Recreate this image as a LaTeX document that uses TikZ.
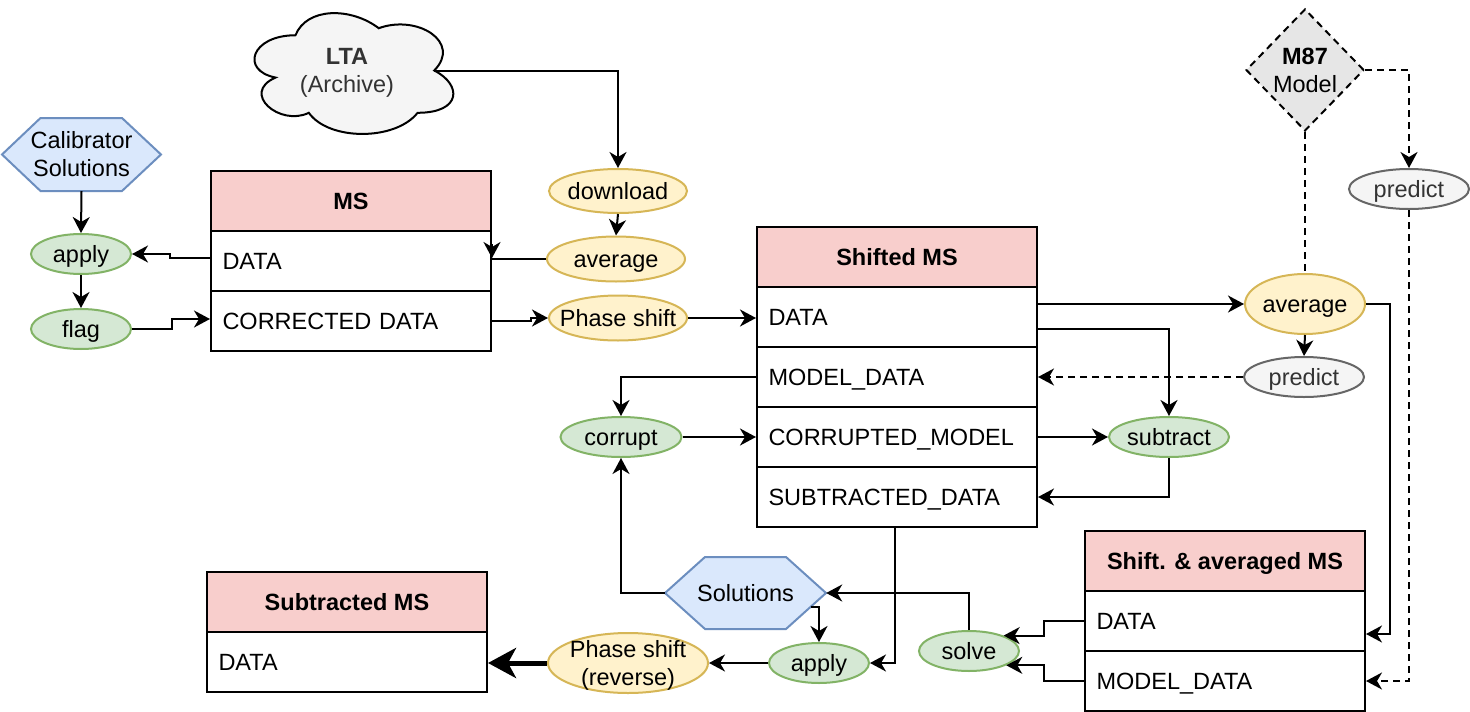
\documentclass[tikz,border=0pt]{standalone}
\usepackage{fontspec}
\setmainfont{Liberation Sans}
\usetikzlibrary{shapes.geometric,arrows.meta}
\definecolor{gfill}{HTML}{D5E8D4}\definecolor{gdraw}{HTML}{82B366}
\definecolor{yfill}{HTML}{FFF2CC}\definecolor{ydraw}{HTML}{D6B656}
\definecolor{pfill}{HTML}{F5F5F5}\definecolor{pdraw}{HTML}{666666}\definecolor{ptext}{HTML}{333333}
\definecolor{bfill}{HTML}{DAE8FC}\definecolor{bdraw}{HTML}{6C8EBF}
\definecolor{hfill}{HTML}{F8CECC}\definecolor{dfill}{HTML}{E6E6E6}
\newcommand{\zt}[1]{\makebox[0pt]{#1}}
\begin{document}
\begin{tikzpicture}[x=1pt,y=-1pt,
  every node/.style={font=\fontsize{23.5}{28}\selectfont, inner sep=0pt, text height=16.8pt, text depth=0pt},
  two/.style={align=center, text height=44.8pt, text depth=0pt},
  proc/.style={ellipse, draw, line width=2pt},
  gproc/.style={proc, fill=gfill, draw=gdraw},
  yproc/.style={proc, fill=yfill, draw=ydraw},
  pproc/.style={proc, fill=pfill, draw=pdraw, text=ptext},
  hdr/.style={rectangle, draw=black, line width=2pt, fill=hfill, minimum width=280pt, minimum height=60pt, font=\fontsize{23.5}{28}\selectfont\bfseries},
  rowbox/.style={rectangle, draw=black, line width=2pt, fill=white, minimum height=60pt, text width=257pt, inner xsep=11.5pt, align=left},
  con/.style={line width=2pt},
  arr/.style={con, -{Stealth[length=16pt,width=17pt,inset=5pt]}},
  dsh/.style={dash pattern=on 7pt off 5pt},
  hexs/.style={fill=bfill, draw=bdraw, line width=2pt, line join=miter},
]
\fill[white] (0,0) rectangle (1470,712);
\useasboundingbox (0,0) rectangle (1470,712);

% cloud
\path[fill=pfill, draw=black, line width=2pt]
  (295.5,35.25) .. controls (251.1,35.25) and (240,70.5) .. (275.52,77.55)
  .. controls (240,93.06) and (279.96,126.9) .. (308.82,112.8)
  .. controls (328.8,141) and (395.4,141) .. (417.6,112.8)
  .. controls (462,112.8) and (462,84.6) .. (434.25,70.5)
  .. controls (462,42.3) and (417.6,14.1) .. (378.75,28.2)
  .. controls (351,7.05) and (306.6,7.05) .. (295.5,35.25) -- cycle;
\node[two, text=ptext] (lta) at (347,70.5) {\textbf{LTA}\\(Archive)};
\coordinate (ltaE) at (434.25,70.5);

% hexagons
\path[hexs] (2,154.5) -- (40.5,118) -- (122,118) -- (161,154.5) -- (122,191) -- (40.5,191) -- cycle;
\node[two, minimum width=159pt, minimum height=73pt] (calsol) at (81.5,154.5) {Calibrator\\Solutions};
\path[hexs] (665,593) -- (705,557) -- (786,557) -- (826,593) -- (786,629) -- (705,629) -- cycle;
\node[minimum width=161pt, minimum height=72pt] (sol) at (745.5,593) {Solutions};

% diamond
\node[diamond, draw=black, fill=dfill, line width=2pt, dsh, minimum width=118pt, minimum height=122pt, two] (m87) at (1305,70) {\textbf{M87}\\Model};

% tables
\node[hdr] (ms) at (351,201) {MS};
\node[rowbox] (msdata) at (351,261) {DATA};
\node[rowbox] (mscorr) at (351,321) {CORRECTED DATA};

\node[hdr] (sms) at (897,257) {Shifted MS};
\node[rowbox] (smsdata) at (897,317) {DATA};
\node[rowbox] (smsmodel) at (897,377) {MODEL\_DATA};
\node[rowbox] (smscorr) at (897,437) {CORRUPTED\_MODEL};
\node[rowbox] (smssub) at (897,497) {SUBTRACTED\_DATA};

\node[hdr] (sub) at (347,602) {Subtracted MS};
\node[rowbox] (subdata) at (347,662) {DATA};

\node[hdr] (sam) at (1225,561) {Shift. \& averaged MS};
\node[rowbox] (samdata) at (1225,621) {DATA};
\node[rowbox] (sammodel) at (1225,681) {MODEL\_DATA};

% ellipses
\node[gproc, minimum width=100pt, minimum height=40pt] (apply1) at (81,254) {\zt{apply}};
\node[gproc, minimum width=100pt, minimum height=40pt] (flag) at (81,329) {\zt{flag}};
\node[yproc, minimum width=138pt, minimum height=44pt] (download) at (618,191) {\zt{download}};
\node[yproc, minimum width=138pt, minimum height=45pt] (avg1) at (616,259) {\zt{average}};
\node[yproc, minimum width=138pt, minimum height=45pt] (phase) at (618,318) {\zt{Phase shift}};
\node[yproc, minimum width=120pt, minimum height=60pt] (avg2) at (1305,304) {\zt{average}};
\node[pproc, minimum width=120pt, minimum height=40pt] (pred1) at (1409,189) {\zt{predict}};
\node[pproc, minimum width=120pt, minimum height=40pt] (pred2) at (1304,377) {\zt{predict}};
\node[gproc, minimum width=121pt, minimum height=40pt] (corrupt) at (621,437) {\zt{corrupt}};
\node[gproc, minimum width=120pt, minimum height=40pt] (subtract) at (1169,437) {\zt{subtract}};
\node[gproc, minimum width=100pt, minimum height=40pt] (solve) at (969,651) {\zt{solve}};
\node[gproc, minimum width=100pt, minimum height=40pt] (apply2) at (819,663) {\zt{apply}};
\node[yproc, minimum width=160pt, minimum height=60pt] (phaserev) at (628,663) {};
\node[two] (phaserevt) at (phaserev) {Phase shift\\(reverse)};

% connectors
\draw[arr] (calsol.south) -- (apply1.north);
\draw[arr] (apply1.south) -- (flag.north);
\draw[arr] ([yshift=3pt]msdata.west) -- ++(-40,0) |- (apply1.east);
\draw[arr] (flag.east) -- ++(40,0) |- ([yshift=2pt]mscorr.west);
\draw[arr] (ltaE) -| (download.north);
\draw[arr] (download.south) -- (avg1.north);
\coordinate (msE) at ([yshift=3pt]msdata.east);
\draw[con] (avg1.west) -- (avg1.west -| msE);
\draw[arr] ([yshift=14pt]msE) -- (msE);
\draw[arr] (mscorr.east) -- ++(39,0) |- (phase.west);
\draw[arr] (phase.east) -- (phase.east -| smsdata.west);
\draw[arr] (avg2.west -| smsdata.east) -- (avg2.west);
\draw[arr] ([yshift=-12pt]smsdata.east) -| (subtract.north);
\draw[con, dsh] (m87.south) -- (avg2.north);
\draw[arr, dsh] (m87.east) -| (pred1.north);
\draw[arr] (avg2.south) -- (pred2.north);
\draw[arr, dsh] (pred2.west) -- (pred2.west -| smsmodel.east);
\draw[arr] (avg2.east) -- ++(24,0) |- ([yshift=-13pt]samdata.east);
\draw[arr, dsh] (pred1.south) |- (sammodel.east);
\draw[arr] (smsmodel.west) -| (corrupt.north);
\draw[arr] (corrupt.east) -- (smscorr.west);
\draw[arr] (smscorr.east) -- (subtract.west);
\draw[arr] (subtract.south) |- (smssub.east);
\draw[arr] (sol.west) -| (corrupt.south);
\draw[arr] ([xshift=-2pt]smssub.south) |- (apply2.east);
\draw[arr] (solve.north) |- (sol.east);
\draw[arr] ([shift={(-15.5pt,-14pt)}]sol.east) -| (apply2.north);
\draw[arr] (apply2.west) -- (phaserev.east);
\draw[line width=5pt, -{Stealth[length=28pt,width=30pt,inset=8pt]}] (phaserev.west) -- (phaserev.west -| subdata.east);
\draw[arr] (samdata.west) -- ++(-40,0) |- (solve.24);
\draw[arr] (sammodel.west) -- ++(-40,0) |- (solve.-21);
\end{tikzpicture}
\end{document}
